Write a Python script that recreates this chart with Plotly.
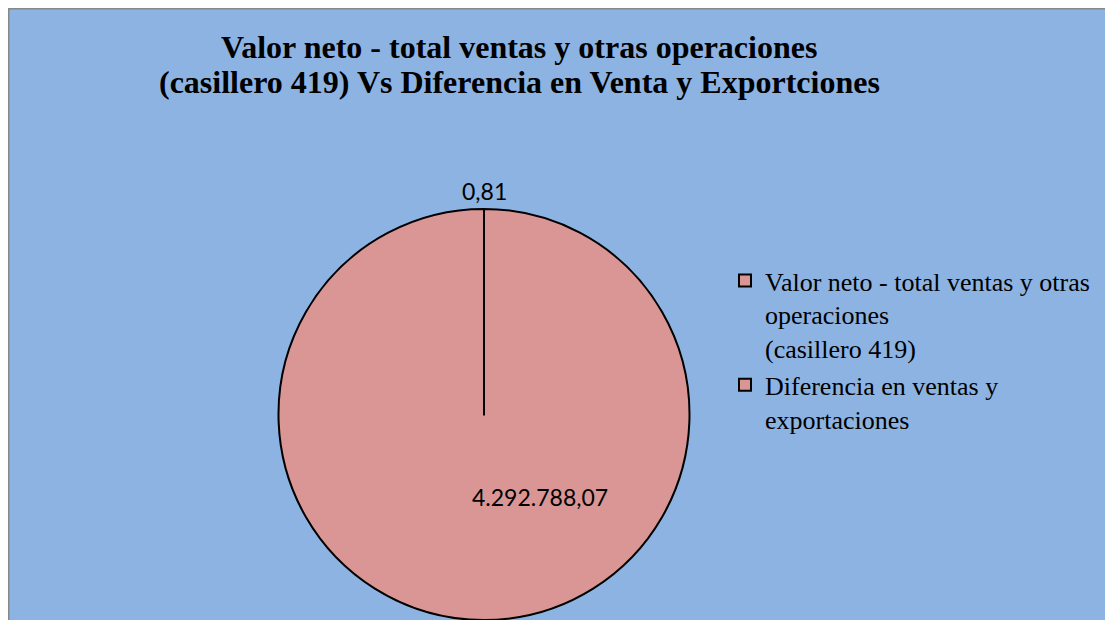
import plotly.graph_objects as go

labels = ["Valor neto - total ventas y otras<br>operaciones<br>(casillero 419)",
          "Diferencia en ventas y<br>exportaciones"]
values = [4292788.07, 0.81]
title_lines = ["Valor neto - total ventas y otras operaciones",
               "(casillero 419) Vs Diferencia en Venta y Exportciones"]

W, H = 1105, 612   # page body has 8px margin
OX, OY = 8, 8
fill = "#D99694"
bg = "#8DB3E2"
serif = "Times New Roman, Liberation Serif, serif"


def fx(px):
    return (px - OX) / W


def fy(py):
    return 1 - (py - OY) / H


def fmt(v):
    s = f"{v:,.2f}"
    return s.replace(",", "X").replace(".", ",").replace("X", ".")


fig = go.Figure()
fig.add_trace(go.Pie(
    labels=labels,
    values=values,
    sort=False,
    direction="clockwise",
    rotation=0,
    marker=dict(colors=[fill, fill], line=dict(color="black", width=2)),
    textinfo="none",
    domain=dict(x=[fx(484 - 206), fx(484 + 206)], y=[0, fy(209)]),
    hoverinfo="label+value",
))

label_pos = [(540, 497), (484, 191)]
for v, (px, py) in zip(values, label_pos):
    fig.add_annotation(x=fx(px), y=fy(py), xref="paper", yref="paper",
                       text=fmt(v), showarrow=False, xanchor="center",
                       yanchor="middle",
                       font=dict(family="Lato", size=23, color="black"))

title_y = [47, 82]
for line, py in zip(title_lines, title_y):
    fig.add_annotation(x=fx(519), y=fy(py), xref="paper", yref="paper",
                       text=f"<b>{line}</b>", showarrow=False,
                       xanchor="center", yanchor="middle",
                       font=dict(family=serif, size=32, color="black"))

fig.update_layout(
    width=W, height=H,
    margin=dict(l=0, r=0, t=0, b=0),
    paper_bgcolor=bg,
    separators=",.",
    legend=dict(x=fx(725), y=fy(257), xanchor="left", yanchor="top",
                valign="top",
                font=dict(family=serif, size=26, color="black"),
                bgcolor="rgba(0,0,0,0)", tracegroupgap=4),
    shapes=[dict(type="line", xref="paper", yref="paper", x0=0, x1=1,
                 y0=1, y1=1, line=dict(color="#888888", width=3)),
            dict(type="line", xref="paper", yref="paper", x0=0, x1=0,
                 y0=0, y1=1, line=dict(color="#888888", width=3))],
)

fig.write_html("out.html")
